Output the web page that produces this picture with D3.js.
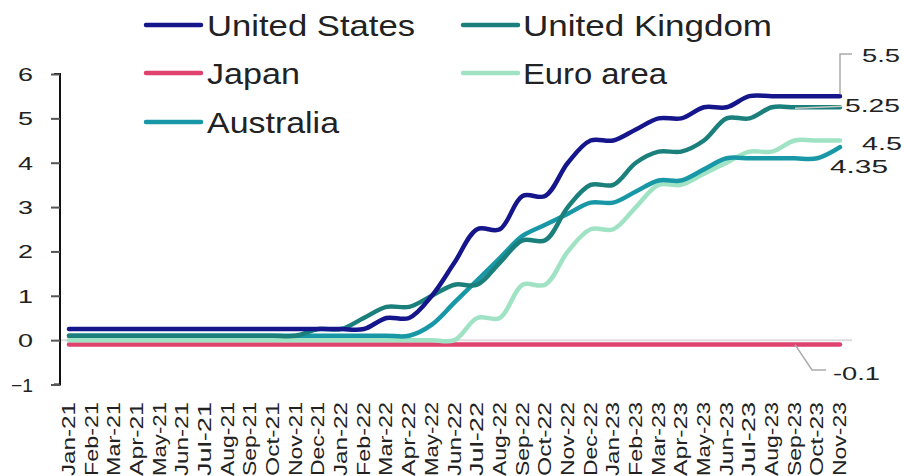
<!DOCTYPE html>
<html><head><meta charset="utf-8">
<script src="https://cdn.jsdelivr.net/npm/d3@7"></script>
<style>
body{margin:0;background:#fff;}
svg text{font-family:"Liberation Sans",Arial,sans-serif;fill:#222;}
</style></head>
<body>
<svg id="c" width="904" height="476"></svg>
<script>
const months = ["Jan-21","Feb-21","Mar-21","Apr-21","May-21","Jun-21","Jul-21","Aug-21","Sep-21","Oct-21","Nov-21","Dec-21",
"Jan-22","Feb-22","Mar-22","Apr-22","May-22","Jun-22","Jul-22","Aug-22","Sep-22","Oct-22","Nov-22","Dec-22",
"Jan-23","Feb-23","Mar-23","Apr-23","May-23","Jun-23","Jul-23","Aug-23","Sep-23","Oct-23","Nov-23"];
const unitedStates = [0.25,0.25,0.25,0.25,0.25,0.25,0.25,0.25,0.25,0.25,0.25,0.25,
0.25,0.25,0.5,0.5,1.0,1.75,2.5,2.5,3.25,3.25,4.0,4.5,
4.5,4.75,5.0,5.0,5.25,5.25,5.5,5.5,5.5,5.5,5.5];
const unitedKingdom = [0.1,0.1,0.1,0.1,0.1,0.1,0.1,0.1,0.1,0.1,0.1,0.25,
0.25,0.5,0.75,0.75,1.0,1.25,1.25,1.75,2.25,2.25,3.0,3.5,
3.5,4.0,4.25,4.25,4.5,5.0,5.0,5.25,5.25,5.25,5.25];
const japan = [-0.1,-0.1,-0.1,-0.1,-0.1,-0.1,-0.1,-0.1,-0.1,-0.1,-0.1,-0.1,
-0.1,-0.1,-0.1,-0.1,-0.1,-0.1,-0.1,-0.1,-0.1,-0.1,-0.1,-0.1,
-0.1,-0.1,-0.1,-0.1,-0.1,-0.1,-0.1,-0.1,-0.1,-0.1,-0.1];
const euroArea = [0,0,0,0,0,0,0,0,0,0,0,0,
0,0,0,0,0,0,0.5,0.5,1.25,1.25,2.0,2.5,
2.5,3.0,3.5,3.5,3.75,4.0,4.25,4.25,4.5,4.5,4.5];
const australia = [0.1,0.1,0.1,0.1,0.1,0.1,0.1,0.1,0.1,0.1,0.1,0.1,
0.1,0.1,0.1,0.1,0.35,0.85,1.35,1.85,2.35,2.6,2.85,3.1,
3.1,3.35,3.6,3.6,3.85,4.1,4.1,4.1,4.1,4.1,4.35];
const seriesNames = ["United States","United Kingdom","Japan","Euro area","Australia"];
const seriesColors = ["#16168c","#1b807c","#e0426f","#a0e3c4","#1898a6"];
const yTicks = [-1,0,1,2,3,4,5,6];
const endLabels = ["5.5","5.25","4.5","4.35","-0.1"];

const series = [unitedStates, unitedKingdom, japan, euroArea, australia];
const svg = d3.select("#c");

const x = d3.scalePoint().domain(months).range([69, 840]);
const y = d3.scaleLinear().domain([-1, 6]).range([384.5, 74]);

// fit text horizontally to a given width
function fit(sel, w){
  sel.each(function(){
    const t = d3.select(this);
    const L = this.getComputedTextLength();
    t.attr("textLength", w).attr("lengthAdjust","spacingAndGlyphs");
  });
}

// zero line
svg.append("line").attr("x1",60).attr("x2",852).attr("y1",y(0)).attr("y2",y(0))
  .attr("stroke","#dcdcdc").attr("stroke-width",2);

// y axis
const yAxis = d3.axisLeft(y).tickValues(yTicks).tickSize(9).tickSizeOuter(0).tickFormat(d3.format("d")).tickPadding(0);
const ga = svg.append("g").attr("transform","translate(60,0)").call(yAxis);
ga.select(".domain").attr("stroke","#111").attr("stroke-width",2)
  .attr("d", `M-6,${y(6)}H0V${y(-1)}H-6`);
ga.selectAll(".tick line").attr("stroke","#555").attr("stroke-width",2);
ga.selectAll(".tick text").remove();
const yl = svg.append("g");
yTicks.forEach(v=>{
  const t = yl.append("text").attr("x",33).attr("y",y(v)+7).attr("text-anchor","end")
    .style("font-size","19px").text(d3.format("d")(v));
  fit(t, v<0?22:15);
});

// lines
const line = d3.line().x((d,i)=>x(months[i])).y(d=>y(d)).curve(d3.curveCatmullRom.alpha(0.5));
const order = [2,3,4,1,0];
order.forEach(k=>{
  svg.append("path").datum(series[k]).attr("d",line).attr("fill","none")
    .attr("stroke",seriesColors[k]).attr("stroke-width",4.5).attr("stroke-linecap","round")
    .attr("stroke-linejoin","round");
});

// x labels
const xl = svg.append("g");
months.forEach(m=>{
  const t = xl.append("text").attr("transform",`translate(${x(m)+6},402) rotate(-90)`)
    .attr("text-anchor","end").style("font-size","18.5px").text(m);
  fit(t, 74);
});

// legend
const legPos = [[146,25,207,208],[463,25,523,249],[146,73,207,93],[463,73,523,144],[146,122,207,132]];
const legIdx = [0,1,2,3,4];
legIdx.forEach((k,i)=>{
  const p = legPos[i];
  svg.append("line").attr("x1",p[0]).attr("x2",p[0]+55).attr("y1",p[1]).attr("y2",p[1])
    .attr("stroke",seriesColors[k]).attr("stroke-width",4.5).attr("stroke-linecap","round");
  const t = svg.append("text").attr("x",p[2]).attr("y",p[1]+11).style("font-size","29px").text(seriesNames[k]);
  fit(t, p[3]);
});

// leader lines
const lead = svg.append("g").attr("fill","none").attr("stroke","#aaa").attr("stroke-width",1.5);
lead.append("path").attr("d",`M${x("Nov-23")},${y(5.5)-2}V54H852`);
lead.append("path").attr("d",`M795,${y(5.25)+1}L842,${y(5.25)-1}`).attr("stroke","#c8c8c8");
lead.append("path").attr("d",`M795,${y(-0.1)}L812,370H826`);

// end labels
const endPos = [[862,62,38],[845,112,55],[862,150,40],[830,173,58],[833,380,47]];
endLabels.forEach((s,i)=>{
  const p = endPos[i];
  const t = svg.append("text").attr("x",p[0]).attr("y",p[1]).style("font-size","18px").text(s);
  fit(t, p[2]);
});
</script>
</body></html>
